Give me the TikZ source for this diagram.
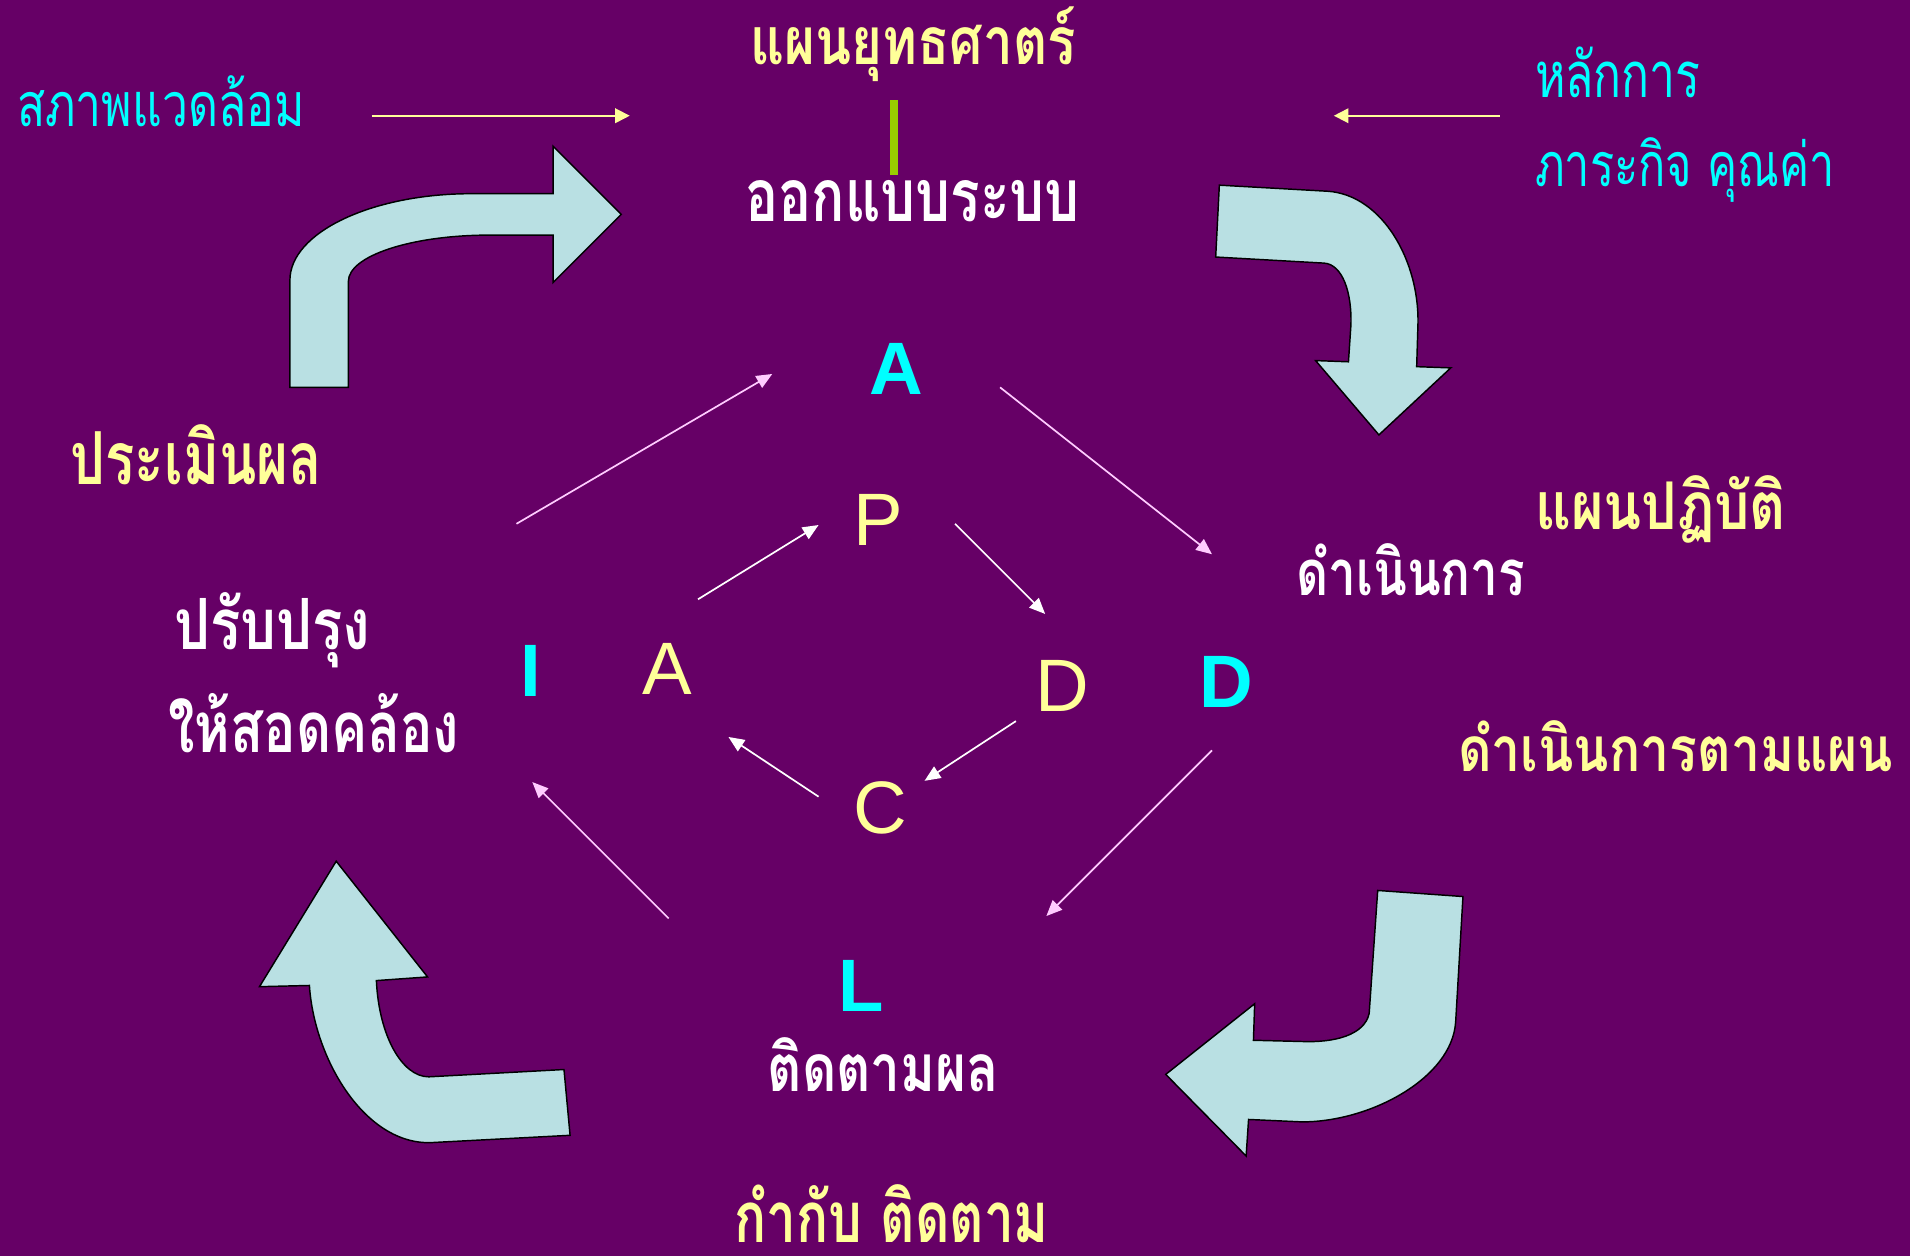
\documentclass[tikz,border=0pt]{standalone}
\usepackage{fontspec}
\setmainfont{Liberation Sans}
\newfontfamily\thai[Script=Thai]{Loma}
\usetikzlibrary{arrows.meta}
\definecolor{bg}{HTML}{660066}
\definecolor{ylw}{HTML}{FFFF99}
\definecolor{cyn}{HTML}{00FFFF}
\definecolor{arrfill}{HTML}{B9E0E3}
\definecolor{pinkl}{HTML}{FFCCFF}
\definecolor{grn}{HTML}{99CC00}
\newsavebox\fitbox
\newcommand\fitw[2]{\sbox\fitbox{#2}\pgfmathsetmacro\fitfac{#1/\the\wd\fitbox}\scalebox{\fitfac}[1]{\usebox\fitbox}}
\begin{document}
\begin{tikzpicture}[x=1pt,y=-1pt,
  thr/.style={inner sep=0pt, anchor=base west, font=\thai\fontsize{#1}{#1}\selectfont},
  thr/.default=52,
  thb/.style={inner sep=0pt, anchor=base west, font=\thai\fontsize{#1}{#1}\selectfont\bfseries},
  thb/.default=54,
  letb/.style={inner sep=0pt, anchor=base, font=\fontsize{61}{70}\selectfont\bfseries, text=cyn},
  letr/.style={inner sep=0pt, anchor=base, font=\fontsize{61}{70}\selectfont, text=ylw},
  bigarr/.style={fill=arrfill, draw=black, line width=1.2pt, line join=miter},
  outerarr/.style={draw=pinkl, line width=1.4pt, -{Triangle[length=13pt,width=11pt]}, color=pinkl},
  innerarr/.style={draw=white, line width=1.4pt, -{Triangle[length=13pt,width=11pt]}},
  topar/.style={draw=ylw, line width=1.4pt, -{Triangle[length=12pt,width=12pt]}}]
\useasboundingbox (0,0) rectangle (1568,1031);
\fill[bg] (0,0) rectangle (1568,1031);

% Thai labels
\node[thb=54, text=ylw] (strat) at (616,53) {\fitw{267}{แผนยุทธศาตร์}};
\node[thb=60, text=white] (design) at (612,182) {\fitw{274}{ออกแบบระบบ}};
\node[thr=50, text=cyn] (env) at (14,104) {\fitw{236}{สภาพแวดล้อม}};
\node[thr=52, text=cyn] (princ) at (1260,80) {\fitw{136}{หลักการ}};
\node[thr=50, text=cyn] (mission) at (1260,153) {\fitw{246}{ภาระกิจ คุณค่า}};
\node[thb=60, text=ylw] (evalu) at (58,398) {\fitw{206}{ประเมินผล}};
\node[thb=58, text=white] (impr1) at (143,533) {\fitw{161}{ปรับปรุง}};
\node[thb=58, text=white] (impr2) at (138,618) {\fitw{239}{ให้สอดคล้อง}};
\node[thb=54, text=ylw] (actplan) at (1260,435) {\fitw{206}{แผนปฏิบัติ}};
\node[thb=52, text=white] (operate) at (1064,489) {\fitw{188}{ดำเนินการ}};
\node[thb=51, text=ylw] (follow) at (1197,633) {\fitw{357}{ดำเนินการตามแผน}};
\node[thb=54, text=white] (monitor) at (630,896) {\fitw{190}{ติดตามผล}};
\node[thb=58, text=ylw] (control) at (603,1020) {\fitw{258}{กำกับ ติดตาม}};

% green bar
\fill[grn] (731,82) rectangle (737,144);

% letters
\node[letb] (A1) at (735.5,324) {A};
\node[letr] (P) at (721,448) {P};
\node[letb] (I) at (436,572) {I};
\node[letr] (A2) at (547.5,570) {A};
\node[letr] (D1) at (872,584) {D};
\node[letb] (D2) at (1007,581) {D};
\node[letr] (C) at (723,684) {C};
\node[letb] (L) at (707,830) {L};

% top yellow arrows
\coordinate (envS) at (305,95); \coordinate (envE) at (517,95);
\coordinate (prS) at (1231,95); \coordinate (prE) at (1095,95);
\draw[topar] (envS) -- (envE);
\draw[topar] (prS) -- (prE);

% outer thin arrows
\coordinate (o1s) at (424,430); \coordinate (o1e) at (634,307);
\coordinate (o2s) at (821,318); \coordinate (o2e) at (995,455);
\coordinate (o3s) at (995,616); \coordinate (o3e) at (859,752);
\coordinate (o4s) at (549,754); \coordinate (o4e) at (437,642);
\draw[outerarr] (o1s) -- (o1e);
\draw[outerarr] (o2s) -- (o2e);
\draw[outerarr] (o3s) -- (o3e);
\draw[outerarr] (o4s) -- (o4e);

% inner thin arrows
\coordinate (i1s) at (573,492); \coordinate (i1e) at (672,431);
\coordinate (i2s) at (784,430); \coordinate (i2e) at (858,504);
\coordinate (i3s) at (834,592); \coordinate (i3e) at (759,641);
\coordinate (i4s) at (672,654); \coordinate (i4e) at (598,605);
\draw[innerarr] (i1s) -- (i1e);
\draw[innerarr] (i2s) -- (i2e);
\draw[innerarr] (i3s) -- (i3e);
\draw[innerarr] (i4s) -- (i4e);

% big curved arrows
\draw[bigarr] (238,318) -- (238,230) .. controls (238,191) and (305,159) .. (387,159) -- (454,159) -- (454,120) -- (510,176) -- (454,232) -- (454,193) -- (402,193) .. controls (338,193) and (286,210) .. (286,231) -- (286,318) -- cycle;
\draw[bigarr] (1001,152) -- (1090,157) .. controls (1135,160) and (1166,215) .. (1164,268) -- (1163,301) -- (1191,302) -- (1132,357) -- (1080,296) -- (1107,297) -- (1109,267) .. controls (1110,240) and (1102,217) .. (1087,216) -- (998,211) -- cycle;
\draw[bigarr] (1131,731) -- (1201,736) -- (1195,839) .. controls (1192,885) and (1125,921) .. (1069,921) -- (1025,919) -- (1023,949) -- (957,882) -- (1030,824) -- (1029,854) -- (1069,855) .. controls (1095,856) and (1120,850) .. (1124,832) -- cycle;
\draw[bigarr] (276,707) -- (351,802) -- (309,805) .. controls (311,850) and (330,884) .. (352,884) -- (463,878) -- (468,932) -- (354,938) .. controls (300,940) and (258,870) .. (254,809) -- (213,810) -- cycle;
\end{tikzpicture}
\end{document}
